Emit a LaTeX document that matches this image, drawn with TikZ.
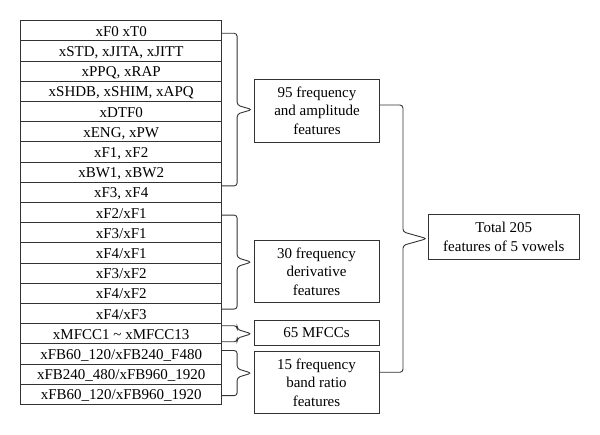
\documentclass[tikz,border=0pt]{standalone}
\usepackage{fontspec}
\setmainfont{Liberation Serif}
\usetikzlibrary{calc}

% brace: top, bottom, spine offset, node at the tip, gap before that node
\newcommand\fbrace[5]{%
\coordinate (bt) at (#1);
\coordinate (bb) at (#2);
\coordinate (sp) at ($(bt)+(#3,0)$);
\coordinate (md) at ($(bt)!0.5!(bb)$);
\coordinate (tp) at ($(md -| #4.west)+(-#5,0)$);
\draw[brc] (bt)--(sp)--($(md -| sp)+(0,-#3/3.4)$)--(tp)--($(md -| sp)+(0,#3/3.4)$)--(bb -| sp)--(bb);
}

\begin{document}
\begin{tikzpicture}[x=1pt,y=-1pt]
\tikzstyle{every node}=[font=\fontsize{15}{18.3}\selectfont]
\tikzstyle{row}=[draw=black!80,line width=0.9pt,minimum width=201pt,minimum height=20.2pt,inner sep=0pt,text height=11pt,text depth=0pt]
\tikzstyle{box}=[draw=black!80,line width=0.9pt,minimum width=125pt,align=center,inner sep=0pt]
\tikzstyle{brc}=[black!80,line width=0.9pt,rounded corners=3pt]
\useasboundingbox (0,0) rectangle (600,435);

\foreach \t [count=\i from 0] in {xF0 xT0,{xSTD, xJITA, xJITT},{xPPQ, xRAP},{xSHDB, xSHIM, xAPQ},xDTF0,{xENG, xPW},{xF1, xF2},{xBW1, xBW2},{xF3, xF4},xF2/xF1,xF3/xF1,xF4/xF1,xF3/xF2,xF4/xF2,xF4/xF3,xMFCC1 \textasciitilde{} xMFCC13,xFB60\_120/xFB240\_F480,xFB240\_480/xFB960\_1920,xFB60\_120/xFB960\_1920}
  \node[row] (r\i) at (121.2,30.8+20.2*\i) {\t};

\node[box,minimum height=62.7pt] (b1) at (317,110.7) {95 frequency\\and amplitude\\features};
\node[box,minimum height=62.4pt] (b2) at (316.5,271.5) {30 frequency\\derivative\\features};
\node[box,minimum height=25.4pt] (b3) at (316.5,333) {65 MFCCs};
\node[box,minimum height=61.6pt] (b4) at (316.5,382.5) {15 frequency\\band ratio\\features};
\node[box,minimum width=151pt,minimum height=45pt] (tot) at (503.8,236.8) {Total 205\\features of 5 vowels};

\fbrace{$(r0.east)+(0,2.5)$}{$(r8.east)+(0,-6.5)$}{15}{b1}{2}
\fbrace{$(r9.east)+(0,2.5)$}{$(r14.east)+(0,-4.5)$}{15}{b2}{2}
\fbrace{$(r15.east)+(0,-8)$}{$(r15.east)+(0,8)$}{15}{b3}{2}
\fbrace{$(r16.east)+(0,-3.5)$}{$(r18.east)+(0,1.3)$}{15}{b4}{2}
\fbrace{$(b1.east)+(0,-5.7)$}{$(b4.east)+(0,-10.2)$}{23}{tot}{1}

\end{tikzpicture}
\end{document}
